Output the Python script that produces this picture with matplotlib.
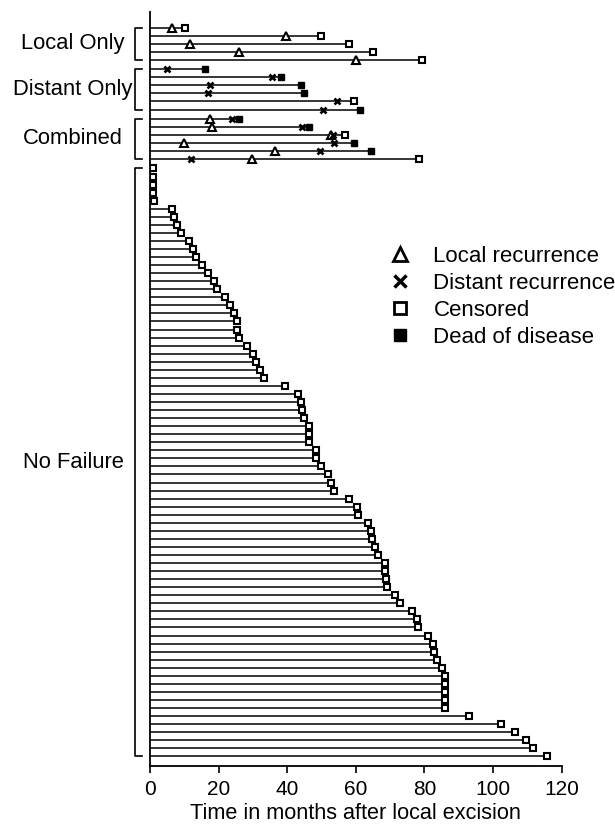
import numpy as np
import matplotlib
matplotlib.use("Agg")
import matplotlib.pyplot as plt
from matplotlib.lines import Line2D

plt.rcParams['font.family'] = ['Liberation Sans', 'DejaVu Sans']

# group names, top to bottom
groups = ["Local Only", "Distant Only", "Combined", "No Failure"]

# Local Only: local recurrence time, last follow-up, dead (1) / censored (0)
local_lr = [6.5, 39.5, 11.8, 25.8, 60.0]
local_end = [10.3, 49.8, 58.0, 65.0, 79.2]
local_dead = [0, 0, 0, 0, 0]

# Distant Only
distant_dr = [5.1, 35.6, 17.6, 16.8, 54.6, 50.4]
distant_end = [15.9, 38.1, 44.0, 44.8, 59.4, 61.2]
distant_dead = [1, 1, 1, 1, 0, 1]

# Combined
comb_lr = [17.5, 18.2, 52.7, 9.9, 36.5, 29.8]
comb_dr = [23.8, 44.4, 53.2, 53.7, 49.6, 12.0]
comb_end = [25.9, 46.4, 56.9, 59.4, 64.5, 78.3]
comb_dead = [1, 1, 0, 1, 1, 0]

# No Failure: all censored
nofail_end = [1, 1, 1, 1, 1.2, 6.3, 7.1, 8, 9, 11.5, 12.6, 13.4,
              15.1, 16.9, 18.6, 19.5, 21.8, 23.2, 24.5, 25.4, 25.4, 25.8, 28.2, 30.1, 31,
              32.2, 33.2, 39.4, 43.1, 43.9, 44.4, 44.9, 46.4, 46.4, 46.4, 48.3, 48.3, 49.8,
              51.9, 52.7, 53.5, 58, 60.3, 60.7, 63.6, 64.4, 64.6, 65.6, 66.4, 68.6, 68.6,
              68.8, 69.1, 71.5, 72.8, 76.4, 77.8, 78, 81.1, 82.5, 82.7, 83.6,
              85.2, 86, 86, 86, 86, 86,
              93, 102.2, 106.5, 109.5, 111.7, 115.7]

xticks = [0, 20, 40, 60, 80, 100, 120]

# build rows: (group, local, distant, end, dead)
rows = []
for lr, e, d in zip(local_lr, local_end, local_dead):
    rows.append((0, lr, None, e, d))
for dr, e, d in zip(distant_dr, distant_end, distant_dead):
    rows.append((1, None, dr, e, d))
for lr, dr, e, d in zip(comb_lr, comb_dr, comb_end, comb_dead):
    rows.append((2, lr, dr, e, d))
for e in nofail_end:
    rows.append((3, None, None, e, 0))

gap = 0.16
fig = plt.figure(figsize=(6.15, 8.27), dpi=100)
ax = fig.add_axes([0.2439, 0.0738, 0.6694, 0.9117])

ypos = []
for i, (g, lr, dr, e, d) in enumerate(rows):
    y = i + g * gap
    ypos.append(y)
    ax.plot([0, e], [y, y], color='black', lw=1.1, zorder=1, solid_capstyle='butt')
    if lr is not None:
        ax.plot(lr, y, marker='^', ms=5.8, mfc='white', mec='black', mew=1.5, zorder=3)
    if dr is not None:
        ax.plot(dr, y, marker='x', ms=4.5, mec='black', mew=1.9, zorder=3)
    if d:
        ax.plot(e, y, marker='s', ms=5, mfc='black', mec='black', mew=1, zorder=3)
    else:
        ax.plot(e, y, marker='s', ms=4.8, mfc='white', mec='black', mew=1.5, zorder=3)

ypos = np.array(ypos)
grp = np.array([r[0] for r in rows])

# brackets and group labels
xb, xt = -4.5, -2.3
for g, name in enumerate(groups):
    ys = ypos[grp == g]
    y0, y1 = ys.min(), ys.max()
    ax.plot([xt, xb, xb, xt], [y0, y0, y1, y1], color='black', lw=1.2, clip_on=False)
    ax.text(-22.4, (y0 + y1) / 2, name, ha='center', va='center', fontsize=15.8)

ax.set_xlim(0, 120)
ax.set_ylim(ypos.max() + 1.2, -1.95)
ax.set_xticks(xticks)
ax.set_yticks([])
ax.tick_params(axis='x', labelsize=15, length=5, width=1.2, pad=5)
ax.set_xlabel("Time in months after local excision", fontsize=15.6, labelpad=3)
for s in ['top', 'right']:
    ax.spines[s].set_visible(False)
ax.spines['left'].set_linewidth(1.3)
ax.spines['bottom'].set_linewidth(1.3)

handles = [
    Line2D([], [], ls='none', marker='^', ms=10, mfc='white', mec='black', mew=2),
    Line2D([], [], ls='none', marker='x', ms=8, mec='black', mew=2.5),
    Line2D([], [], ls='none', marker='s', ms=8, mfc='white', mec='black', mew=2),
    Line2D([], [], ls='none', marker='s', ms=9, mfc='black', mec='black'),
]
labels = ["Local recurrence", "Distant recurrence", "Censored", "Dead of disease"]
fig.legend(handles, labels, loc='upper left', bbox_to_anchor=(0.6325, 0.7025),
           frameon=False, fontsize=16, handlelength=1.0, handletextpad=1.0,
           labelspacing=0.27, borderpad=0, borderaxespad=0)

fig.savefig("out.png", dpi=100)
